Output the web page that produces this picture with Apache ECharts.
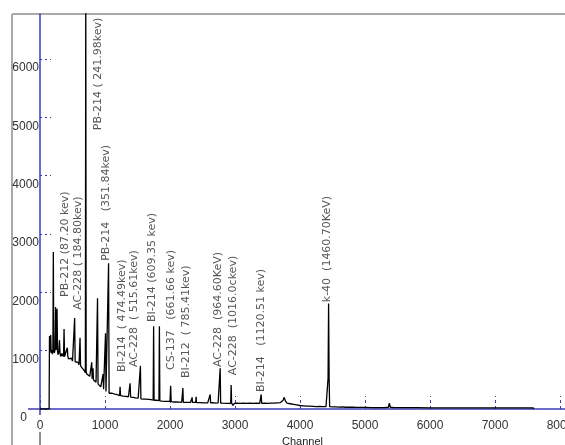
<!DOCTYPE html>
<html>
<head>
<meta charset="utf-8">
<script src="https://cdn.jsdelivr.net/npm/echarts@6/dist/echarts.min.js"></script>
<style>html,body{margin:0;padding:0;background:#fff}#c{width:565px;height:445px}</style>
</head>
<body>
<div id="c"></div>
<script>
// ---- data ----
const channels = [0,140,143,146,150,158,165,172,180,190,198,205,212,222,232,240,248,255,262,270,280,290,300,308,320,335,350,362,370,378,390,405,420,428,440,455,470,485,500,515,525,533,541,555,570,585,600,608,616,624,635,650,665,680,692,698,704,710,720,735,750,765,780,790,796,802,810,816,822,835,850,862,873,885,893,905,920,935,950,962,970,978,990,1000,1008,1015,1025,1040,1048,1055,1063,1075,1090,1110,1130,1150,1170,1190,1210,1225,1232,1239,1260,1280,1300,1320,1340,1360,1378,1386,1394,1410,1430,1450,1470,1490,1510,1530,1538,1545,1552,1570,1590,1610,1630,1650,1670,1690,1710,1730,1741,1748,1755,1770,1790,1810,1830,1837,1844,1860,1880,1900,1920,1940,1960,1980,2000,2010,2018,2040,2060,2080,2100,2120,2140,2160,2180,2191,2198,2205,2230,2260,2290,2315,2335,2340,2346,2370,2395,2402,2408,2430,2460,2490,2520,2550,2580,2610,2618,2625,2660,2700,2740,2765,2772,2779,2810,2840,2870,2900,2934,2941,2948,2970,2990,3030,3080,3130,3180,3230,3280,3330,3380,3396,3403,3410,3450,3500,3550,3600,3650,3700,3740,3757,3775,3800,3850,3900,3950,4000,4050,4100,4150,4200,4250,4300,4350,4400,4425,4432,4440,4448,4456,4500,4550,4600,4650,4700,4750,4800,4840,4850,4860,4900,5000,5100,5200,5300,5360,5375,5390,5450,5600,5800,6000,6200,6400,6600,6800,7000,7200,7400,7590,7595];
const counts = [0,0,0,1250,980,1000,1270,960,1010,940,990,2690,1000,960,1020,1750,1010,990,1720,980,930,990,1180,960,900,950,920,900,1370,900,930,880,1050,900,860,890,840,870,820,850,830,1560,810,830,780,800,760,780,1220,740,720,700,690,660,640,620,7500,640,600,580,590,560,540,530,800,520,510,700,500,480,490,460,440,1900,430,410,400,380,370,350,600,340,320,310,1300,300,290,290,290,2500,270,280,260,270,250,255,240,245,235,230,380,230,225,220,225,215,220,210,205,440,205,200,200,195,190,195,185,180,180,740,175,175,170,165,170,160,165,155,160,150,150,1420,150,145,150,140,145,1420,140,140,135,140,130,135,130,125,130,400,125,125,120,130,120,125,118,122,115,118,360,115,118,112,120,112,115,200,112,115,112,210,110,115,108,112,105,110,105,108,250,105,108,102,105,100,700,102,100,105,98,102,98,410,100,60,95,100,98,102,98,100,97,100,96,98,250,98,100,98,102,100,105,110,150,200,140,100,90,80,70,60,55,50,48,45,42,45,40,40,40,530,1810,530,40,35,35,32,35,30,30,32,30,60,30,28,28,25,25,25,30,100,30,25,22,22,20,20,20,20,18,18,18,18,18,0];
const yTicks = [0,1000,2000,3000,4000,5000,6000];
const xTicks = [0,1000,2000,3000,4000,5000,6000,7000,8000];
const peakLabels = ['PB-212 (87.20 kev)','AC-228 ( 184.80kev)','PB-214 ( 241.98kev)','PB-214   (351.84kev)','BI-214  ( 474.49kev)','AC-228  ( 515.61kev)','BI-214 (609.35 kev)','CS-137   (661.66 kev)','BI-212  ( 785.41kev)','AC-228  (964.60KeV)','AC-228  (1016.0ckev)','BI-214   (1120.51 kev)','k-40  (1460.70KeV)'];
const labelChannel = [385,585,892,1015,1262,1446,1723,2015,2246,2738,2969,3400,4415];
const labelCount = [1920,1700,4780,2540,635,720,1490,670,530,720,580,290,1830];

// ---- chart ----
const chart = echarts.init(document.getElementById('c'), null, {renderer:'canvas'});
const blue = '#3b3bb8';
const axisFont = '"Liberation Sans",Arial,sans-serif';
const lineData = channels.map((c,i)=>[c,counts[i]]);
const labData = labelChannel.map((c,i)=>({value:[c,labelCount[i]], name:peakLabels[i]}));
chart.setOption({
  animation:false,
  backgroundColor:'#fff',
  grid:{left:40,right:0,top:14,bottom:36,containLabel:false,outerBoundsMode:'none'},
  xAxis:{type:'value',min:0,max:8077,interval:1000,
    name:'Channel',nameLocation:'middle',nameGap:24,
    nameTextStyle:{fontFamily:axisFont,fontSize:11,color:'#222'},
    axisLine:{lineStyle:{color:blue,width:1.5}},
    axisTick:{inside:true,length:13,lineStyle:{color:blue,type:[3,3],width:1}},
    axisLabel:{margin:11,fontFamily:axisFont,fontSize:12,color:'#333',showMaxLabel:false,
      formatter:v=>String(v)},
    splitLine:{show:false}},
  yAxis:{type:'value',min:0,max:6771,interval:1000,
    axisLine:{show:true,lineStyle:{color:blue,width:1.5}},
    axisTick:{inside:true,length:11,lineStyle:{color:blue,type:[2,3],width:1.2}},
    axisLabel:{margin:1,verticalAlign:'top',padding:[3,0,0,0],fontFamily:axisFont,fontSize:12,color:'#333',
      showMaxLabel:false,
      formatter:v=> v===0 ? '{z|0}' : String(v),
      rich:{z:{padding:[0,12,0,0],fontFamily:axisFont,fontSize:12,color:'#333'}}},
    splitLine:{show:false}},
  series:[
    {type:'line',data:lineData,showSymbol:false,symbol:'none',clip:true,
     lineStyle:{color:'#000',width:1.3},z:3},
    {type:'scatter',data:labData,symbolSize:0,silent:true,z:4,
     label:{show:true,position:'inside',rotate:90,align:'left',verticalAlign:'middle',
       formatter:p=>p.name,fontFamily:'"DejaVu Sans",Verdana,sans-serif',fontSize:11,color:'#2a2a2a'}}
  ],
  graphic:[
    {type:'line',shape:{x1:12,y1:14,x2:565,y2:14},style:{stroke:'#a9a9a9',lineWidth:2},silent:true},
    {type:'line',shape:{x1:12,y1:14,x2:12,y2:445},style:{stroke:'#a9a9a9',lineWidth:2},silent:true},
    {type:'line',shape:{x1:28,y1:409,x2:40,y2:409},style:{stroke:blue,lineWidth:1.5},silent:true},
    {type:'line',shape:{x1:40,y1:409,x2:40,y2:415},style:{stroke:blue,lineWidth:1.5},silent:true},
    {type:'line',shape:{x1:40,y1:432,x2:40,y2:445},style:{stroke:'#222',lineWidth:1},silent:true}
  ]
});
</script>
</body>
</html>
